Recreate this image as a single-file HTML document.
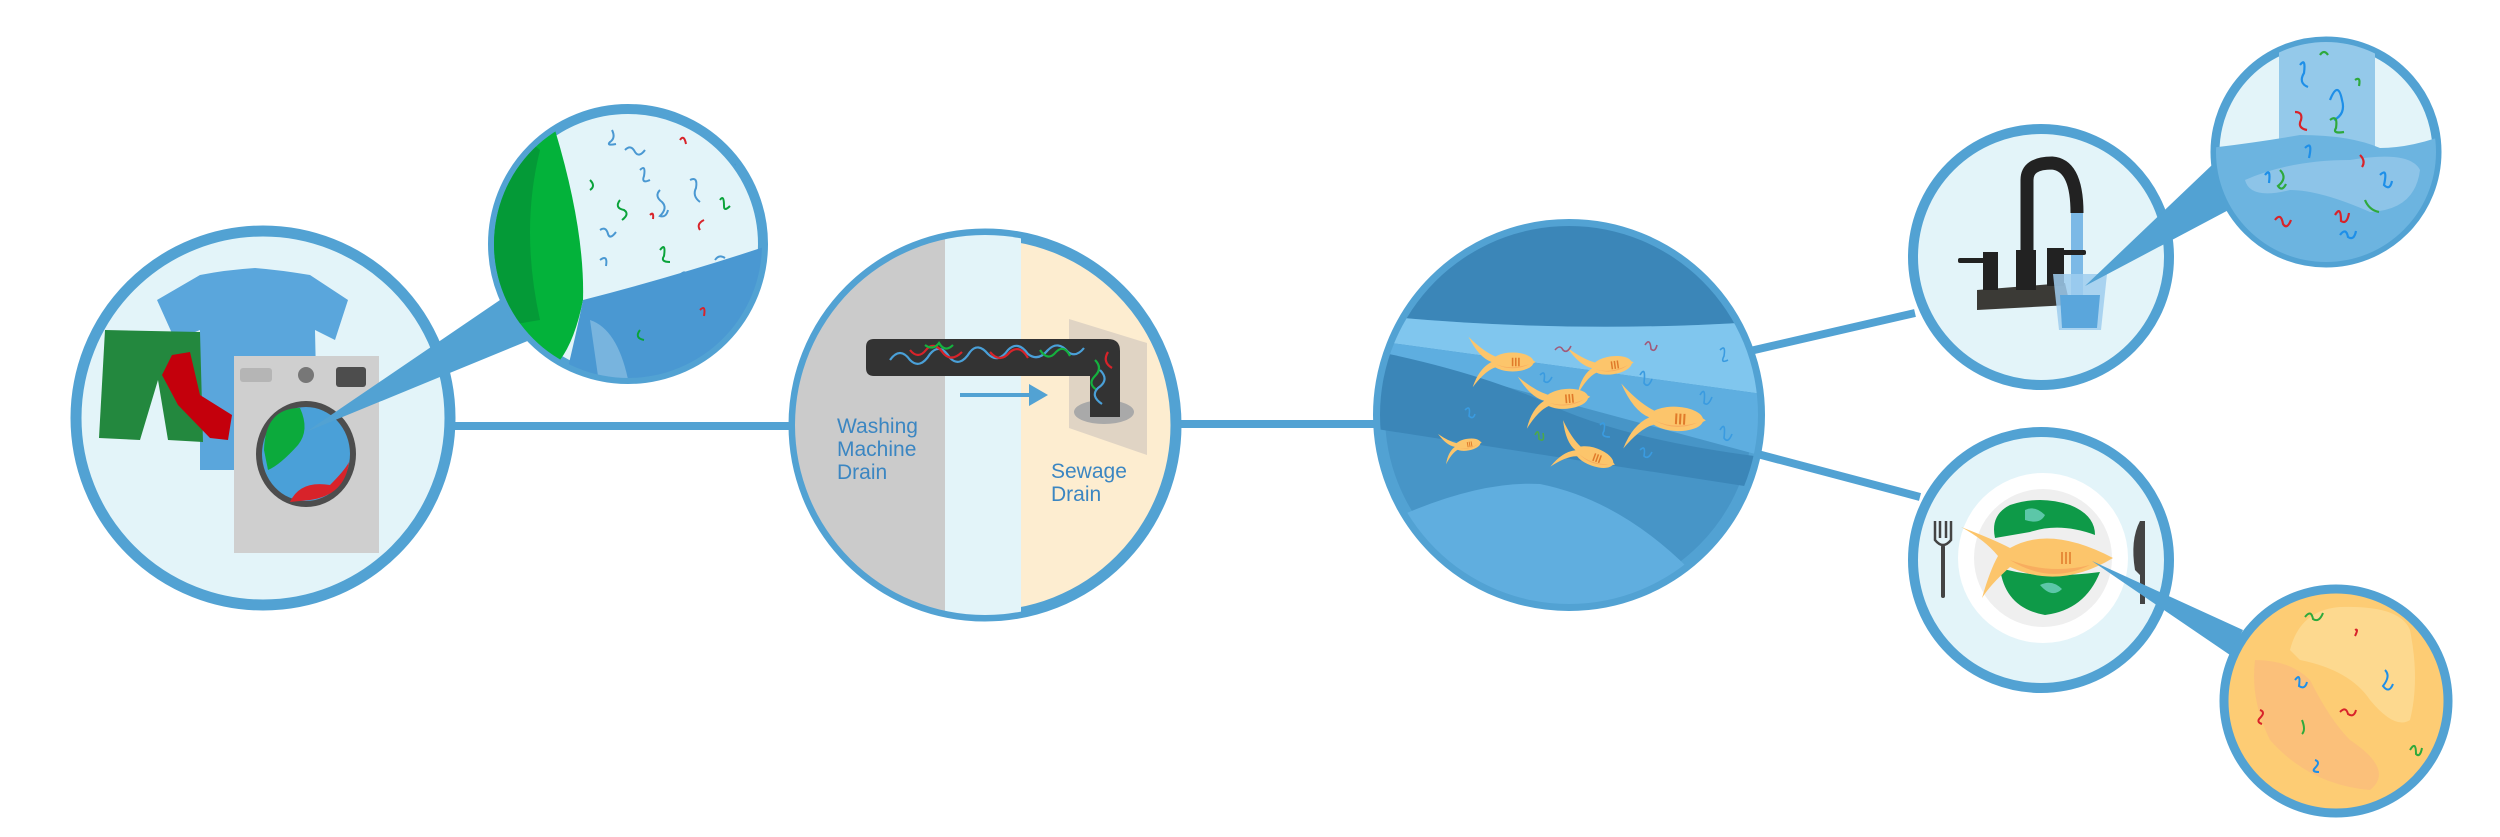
<!DOCTYPE html>
<html><head><meta charset="utf-8"><style>
html,body{margin:0;padding:0;background:#fff;width:2500px;height:837px;overflow:hidden}
svg{display:block}
text{font-family:"Liberation Sans",sans-serif}
</style></head><body>
<svg width="2500" height="837" viewBox="0 0 2500 837" xmlns="http://www.w3.org/2000/svg">
<defs>
<clipPath id="c1"><circle cx="263" cy="418" r="186"/></clipPath>
<clipPath id="c2"><circle cx="628" cy="244" r="134"/></clipPath>
<clipPath id="c3"><circle cx="985" cy="425" r="190"/></clipPath>
<clipPath id="c4"><circle cx="1569" cy="415" r="189"/></clipPath>
<clipPath id="c6"><circle cx="2326" cy="152" r="110"/></clipPath>
<clipPath id="c8"><circle cx="2336" cy="701" r="111"/></clipPath>
<g id="fish"><path d="M-30,-24 Q-20,-4 -8,0 Q-20,6 -26,24 Q-14,8 -4,5 Q12,14 34,0 Q12,-14 -4,-5 Q-16,-10 -30,-24Z" fill="#fcc56b"/><ellipse cx="12" cy="0" rx="20" ry="9" fill="#fcc56b"/><path d="M-4,2 Q10,8 28,2 Q12,10 -4,2Z" fill="#f8ad5f"/><path d="M12,-4 v8 M15,-4 v8 M18,-4 v8" stroke="#e07a2a" stroke-width="1.5"/></g>
</defs>

<!-- connectors -->
<line x1="450" y1="426" x2="795" y2="426" stroke="#52a2d3" stroke-width="8"/>
<line x1="1175" y1="424" x2="1380" y2="424" stroke="#52a2d3" stroke-width="8"/>
<line x1="1750" y1="351" x2="1915" y2="313" stroke="#52a2d3" stroke-width="8"/>
<line x1="1750" y1="452" x2="1920" y2="497" stroke="#52a2d3" stroke-width="8"/>

<!-- circle 1 -->
<circle cx="263" cy="418" r="187" fill="#e3f4f9" stroke="#52a2d3" stroke-width="11"/>
<g clip-path="url(#c1)">
<path d="M157,300 L200,275 Q225,270 255,268 Q280,270 310,275 L348,300 L335,340 L315,330 L318,470 L200,470 L200,330 L175,340 Z" fill="#5aa6dc"/>
<path d="M105,330 L200,332 L203,442 L168,440 L158,380 L140,440 L99,438 Z" fill="#23883e"/>
<path d="M172,355 L190,352 L200,395 L232,415 L228,440 L210,438 L178,405 L162,375 Z" fill="#c4000c"/>
<rect x="234" y="356" width="145" height="197" fill="#cfcfcf"/>
<rect x="240" y="368" width="32" height="14" rx="3" fill="#b5b5b5"/>
<circle cx="306" cy="375" r="8" fill="#777"/>
<rect x="336" y="367" width="30" height="20" rx="3" fill="#4d4d4d"/>
<ellipse cx="306" cy="454" rx="50" ry="53" fill="#4d4d4d"/>
<ellipse cx="306" cy="454" rx="44" ry="47" fill="#4aa0d8"/>
<path d="M264,450 Q265,408 300,408 Q310,430 298,445 Q280,465 268,470Z" fill="#0caa3c"/>
<path d="M290,502 Q300,480 330,485 Q345,470 349,462 Q345,495 310,500Z" fill="#d8232a"/>
</g>
<!-- wedge 1 -->
<polygon points="306,432 500,300 530,340" fill="#52a2d3"/>

<!-- circle 2 -->
<circle cx="628" cy="244" r="135" fill="#e3f4f9" stroke="#52a2d3" stroke-width="10"/>
<g clip-path="url(#c2)">
<path d="M480,100 L555,130 Q585,230 583,300 Q575,340 560,360 L480,380Z" fill="#03b23a"/>
<path d="M480,100 L540,150 Q520,230 540,320 L480,330Z" fill="#049a37"/>
<path d="M583,300 Q680,275 770,245 L770,400 L560,400 Q575,340 583,300Z" fill="#4a98d2"/>
<path d="M590,320 Q620,330 630,390 L600,390Z" fill="#78b4de"/>
<g fill="none" stroke-width="2">
<path d="M612,130 q4,8 -2,12 q-4,4 6,2" stroke="#4a98d2"/>
<path d="M640,170 q6,-6 4,6 q-3,8 6,4" stroke="#4a98d2"/>
<path d="M660,190 q-6,6 2,12 q6,6 -2,14 q6,2 8,-6" stroke="#4a98d2"/>
<path d="M690,180 q8,-4 6,8 q-4,8 4,14" stroke="#4a98d2"/>
<path d="M620,200 q-6,8 4,10 q6,4 -2,10" stroke="#0aa33a"/>
<path d="M700,230 q-4,-6 4,-10" stroke="#d8232a"/>
<path d="M660,250 q6,-8 4,6 q-4,6 6,6" stroke="#0aa33a"/>
<path d="M600,260 q8,-6 6,6" stroke="#4a98d2"/>
<path d="M650,215 q4,-4 3,4" stroke="#d8232a"/>
<path d="M720,200 q4,-6 4,6 q0,6 6,0" stroke="#0aa33a"/>
<path d="M700,310 q6,-6 4,6" stroke="#d8232a"/>
<path d="M640,330 q-6,8 4,10" stroke="#0aa33a"/>
<path d="M625,150 q6,-6 10,2 q4,6 10,-2" stroke="#4a98d2"/>
<path d="M680,140 q4,-6 6,4" stroke="#d8232a"/>
<path d="M735,165 q6,-8 8,2 q2,8 8,0" stroke="#4a98d2"/>
<path d="M600,230 q6,-4 8,4 q2,6 8,-2" stroke="#4a98d2"/>
<path d="M715,260 q4,-6 10,-2" stroke="#4a98d2"/>
<path d="M590,180 q6,6 0,10" stroke="#0aa33a"/>
<path d="M680,275 q6,-6 8,2" stroke="#4a98d2"/>
</g>
</g>

<!-- circle 3 -->
<circle cx="985" cy="425" r="191" fill="#fdedd0" stroke="#52a2d3" stroke-width="11"/>
<g clip-path="url(#c3)">
<rect x="780" y="220" width="165" height="420" fill="#cbcbcb"/>
<rect x="945" y="220" width="76" height="420" fill="#e3f4f9"/>
<polygon points="1069,319 1147,343 1147,455 1069,428" fill="#e0d4c4"/>
<ellipse cx="1104" cy="412" rx="30" ry="12" fill="#a9a9a9"/>
<path d="M874,339 H1108 Q1120,339 1120,351 V417 H1090 V376 H874 Q866,376 866,368 V347 Q866,339 874,339Z" fill="#333"/>
<g fill="none" stroke-width="2.2">
<path d="M890,360 q10,-14 20,0 q10,10 20,-6 q10,-12 20,4 q10,10 20,-6 q8,-10 18,2 q10,10 20,-4 q10,-10 20,4 q10,8 20,-4 q10,-10 20,2 q8,6 16,-4" stroke="#4aa0d8"/>
<path d="M910,350 q8,10 16,0 q8,-10 18,4 q8,8 18,-2 M990,352 q10,12 20,0 q10,-8 18,6" stroke="#d8232a"/>
<path d="M925,345 q8,6 14,-2 q6,10 14,2 M1040,350 q8,12 16,2 q8,-8 14,4 M1095,360 q8,8 0,16 q-8,8 2,14" stroke="#15b13e"/>
<path d="M1100,370 q10,10 -2,18 q-8,8 4,16" stroke="#4aa0d8"/>
<path d="M1108,352 q-6,10 4,16" stroke="#d8232a"/>
</g>
<line x1="960" y1="395" x2="1033" y2="395" stroke="#52a2d3" stroke-width="4"/>
<polygon points="1029,384 1048,395 1029,406" fill="#52a2d3"/>
<g font-size="21" fill="#3b86c2">
<text x="837" y="433">Washing</text>
<text x="837" y="456">Machine</text>
<text x="837" y="479">Drain</text>
<text x="1051" y="478">Sewage</text>
<text x="1051" y="501">Drain</text>
</g>
</g>

<!-- circle 4 -->
<circle cx="1569" cy="415" r="190" fill="#4795c7" stroke="#52a2d3" stroke-width="12"/>
<g clip-path="url(#c4)">
<path d="M1370,210 H1770 V321 Q1570,335 1370,315Z" fill="#3b86b8"/>
<path d="M1370,315 Q1570,335 1770,321 V395 L1370,340Z" fill="#80c6ee"/>
<path d="M1370,340 L1770,395 V458 L1370,350Z" fill="#5eaee0"/>
<path d="M1370,350 Q1470,370 1540,400 Q1620,440 1770,458 V490 L1370,428Z" fill="#3b86b8"/>
<path d="M1370,530 Q1470,480 1540,484 Q1620,500 1690,570 L1690,620 L1370,620Z" fill="#60aedf"/>
</g>
<use href="#fish" transform="translate(1500,362) scale(1.05)"/>
<use href="#fish" transform="translate(1600,367) scale(1) rotate(-8)"/>
<use href="#fish" transform="translate(1553,400) scale(1.1) rotate(-5)"/>
<use href="#fish" transform="translate(1660,418) scale(1.35) rotate(3)"/>
<use href="#fish" transform="translate(1460,446) scale(0.65) rotate(-10)"/>
<use href="#fish" transform="translate(1583,453) scale(1) rotate(20)"/>
<g fill="none" stroke-width="1.6">
<path d="M1555,350 q5,-6 8,0 q4,4 8,-4" stroke="#a05a7a"/>
<path d="M1645,345 q5,-8 6,4 q4,4 6,-4" stroke="#a05a7a"/>
<path d="M1720,350 q6,-6 4,6 q-4,8 4,4" stroke="#3a9be0"/>
<path d="M1540,375 q6,-6 4,6 q4,4 8,-4" stroke="#3a9be0"/>
<path d="M1640,375 q6,-10 4,8 q4,6 8,-4" stroke="#3a9be0"/>
<path d="M1465,410 q6,-6 4,6 q4,4 6,-2" stroke="#3a9be0"/>
<path d="M1600,425 q6,-6 4,6 q-4,6 6,6" stroke="#3a9be0"/>
<path d="M1535,435 q4,-8 4,4 q6,4 4,-6" stroke="#4ca84c"/>
<path d="M1640,450 q6,-6 4,6 q4,4 8,-4" stroke="#3a9be0"/>
<path d="M1720,430 q6,-10 4,8 q4,6 8,-4" stroke="#3a9be0"/>
<path d="M1700,395 q6,-10 4,8 q4,4 8,-6" stroke="#3a9be0"/>
</g>

<!-- faucet circle -->
<circle cx="2041" cy="257" r="128" fill="#e3f4f9" stroke="#52a2d3" stroke-width="10"/>
<path d="M2027,252 V180 Q2027,163 2052,163 Q2077,165 2077,213" fill="none" stroke="#222" stroke-width="13"/>
<rect x="2071" y="213" width="12" height="85" fill="#7cb9e6"/>
<polygon points="1977,290 2065,283 2070,305 1977,310" fill="#3b3a36"/>
<rect x="1983" y="252" width="15" height="38" fill="#222"/>
<rect x="1958" y="258" width="30" height="5" rx="2" fill="#222"/>
<rect x="2016" y="250" width="20" height="40" fill="#222"/>
<rect x="2047" y="248" width="17" height="38" fill="#222"/>
<rect x="2060" y="250" width="26" height="5" rx="2" fill="#222"/>
<path d="M2053,274 H2107 L2101,330 H2059Z" fill="#9fcdee" opacity="0.85"/>
<path d="M2060,295 H2100 L2097,328 H2062Z" fill="#5aa6dc"/>
<polygon points="2085,286 2212,165 2238,205" fill="#52a2d3"/>

<!-- water zoom circle -->
<circle cx="2326" cy="152" r="111" fill="#e3f4f9" stroke="#52a2d3" stroke-width="9"/>
<g clip-path="url(#c6)">
<rect x="2279" y="30" width="96" height="120" fill="#94c9ea"/>
<path d="M2210,148 Q2260,142 2300,135 Q2350,135 2380,148 Q2410,148 2445,135 V280 H2210Z" fill="#6cb4e0"/>
<path d="M2245,180 Q2290,160 2350,160 Q2410,150 2420,170 Q2415,210 2370,212 Q2320,190 2290,190 Q2250,200 2245,180Z" fill="#8dc4e8"/>
<g fill="none" stroke-width="2.2">
<path d="M2300,65 q6,-8 4,8 q-6,10 4,14" stroke="#1e8fe8"/>
<path d="M2330,100 q8,-20 12,0 q4,14 -8,20" stroke="#1e8fe8"/>
<path d="M2295,112 q8,0 6,8 q-4,8 6,10" stroke="#d8232a"/>
<path d="M2330,120 q8,-6 6,8 q-4,6 8,4" stroke="#2ea93c"/>
<path d="M2320,55 q4,-6 8,0" stroke="#2ea93c"/>
<path d="M2355,80 q6,-4 4,6" stroke="#2ea93c"/>
<path d="M2305,148 q8,-8 4,10" stroke="#1e8fe8"/>
<path d="M2265,175 q6,-8 4,8" stroke="#1e8fe8"/>
<path d="M2280,170 q8,8 -2,16 q4,6 8,-2" stroke="#2ea93c"/>
<path d="M2360,155 q6,6 2,12" stroke="#d8232a"/>
<path d="M2380,175 q8,-8 4,10 q6,6 8,-4" stroke="#1e8fe8"/>
<path d="M2275,220 q6,-8 8,4 q4,6 8,-4" stroke="#d8232a"/>
<path d="M2335,215 q6,-10 6,6 q6,4 8,-8" stroke="#d8232a"/>
<path d="M2340,235 q6,-8 8,2 q6,4 8,-6" stroke="#1e8fe8"/>
<path d="M2365,200 q4,10 14,12" stroke="#2ea93c"/>
</g>
</g>

<!-- plate circle -->
<circle cx="2041" cy="560" r="128" fill="#e3f4f9" stroke="#52a2d3" stroke-width="10"/>
<circle cx="2043" cy="558" r="85" fill="#fff"/>
<circle cx="2043" cy="558" r="69" fill="#efefef"/>
<path d="M1995,538 Q1990,515 2010,505 Q2040,495 2070,505 Q2095,515 2095,535 Q2060,522 2030,532Z" fill="#0e9a48"/>
<path d="M2000,568 Q2040,580 2100,572 Q2085,610 2045,615 Q2005,608 2000,568Z" fill="#0e9a48"/>
<path d="M2025,510 q10,-5 20,5 q-5,10 -20,5Z M2040,585 q12,-6 22,4 q-10,10 -22,-4Z" fill="#5cc7a8"/>
<path d="M1961,527 Q1995,540 2010,548 Q2050,525 2113,558 Q2060,590 2010,567 Q1990,585 1982,598 Q1990,570 1998,556 Q1985,540 1961,527Z" fill="#fcc56b"/>
<path d="M2010,560 Q2050,575 2090,565 Q2050,585 2010,560Z" fill="#f8ad5f"/>
<path d="M2062,552 v12 M2066,552 v12 M2070,552 v12" stroke="#e07a2a" stroke-width="1.5"/>
<rect x="1941" y="545" width="4" height="53" rx="2" fill="#444"/>
<path d="M1935,521 V540 Q1943,550 1951,540 V521 M1940,521 V538 M1946,521 V538" fill="none" stroke="#444" stroke-width="2.5"/>
<path d="M2140,521 Q2130,540 2135,570 L2140,575 V604 H2145 V521Z" fill="#444"/>
<polygon points="2092,561 2243,630 2230,655" fill="#52a2d3"/>

<!-- food zoom circle -->
<circle cx="2336" cy="701" r="112" fill="#fdcc74" stroke="#52a2d3" stroke-width="9"/>
<g clip-path="url(#c8)">
<path d="M2290,650 Q2300,610 2340,607 Q2400,605 2410,630 Q2420,680 2410,720 Q2395,730 2370,700 Q2350,670 2300,660Z" fill="#fdd98f"/>
<path d="M2255,660 Q2290,660 2310,680 Q2330,720 2350,740 Q2395,770 2370,790 Q2310,785 2270,740 Q2250,700 2255,660Z" fill="#fbc07a"/>
<g fill="none" stroke-width="2">
<path d="M2305,617 q6,-8 8,2 q6,4 10,-6" stroke="#2ea93c"/>
<path d="M2295,680 q6,-8 4,6 q6,4 8,-4" stroke="#1e8fe8"/>
<path d="M2385,670 q6,6 -2,16 q6,8 10,-2" stroke="#1e8fe8"/>
<path d="M2260,710 q6,2 0,8 q-4,4 2,6" stroke="#d8232a"/>
<path d="M2340,712 q6,-6 8,2 q6,4 8,-4" stroke="#d8232a"/>
<path d="M2302,720 q4,10 0,14" stroke="#2ea93c"/>
<path d="M2410,750 q6,-10 6,4 q4,4 6,-6" stroke="#2ea93c"/>
<path d="M2315,760 q6,2 0,8 q-4,4 4,4" stroke="#1e8fe8"/>
<path d="M2355,630 q4,-2 0,6" stroke="#d8232a"/>
</g>
</g>
</svg>
</body></html>
